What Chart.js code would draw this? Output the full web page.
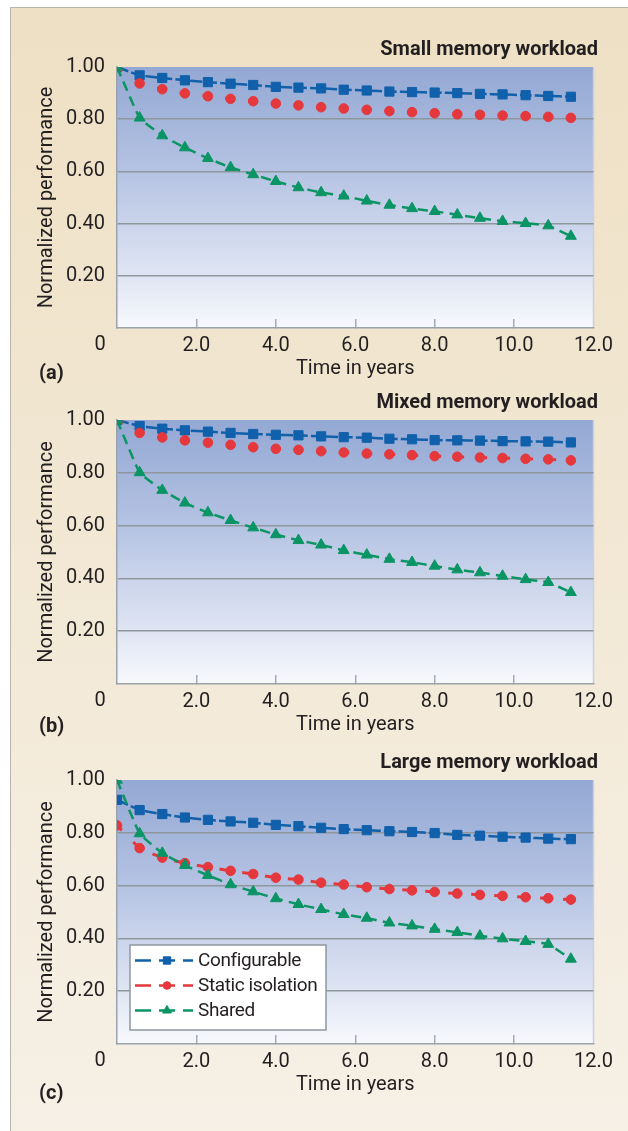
<!DOCTYPE html>
<html>
<head>
  <meta charset="UTF-8">
  <title>Normalized performance over time</title>
  <script src="https://cdn.jsdelivr.net/npm/chart.js"></script>
  <style>
    body {
      margin: 0;
      width: 628px;
      height: 1131px;
      position: relative;
      overflow: hidden;
      background: #fff;
      font-family: Roboto, 'DejaVu Sans', sans-serif;
    }

    #panel {
      position: absolute;
      left: 10px;
      top: 7px;
      width: 630px;
      height: 1130px;
      border-left: 1.5px solid #b7b4ae;
      border-top: 1.5px solid #b7b4ae;
      background: linear-gradient(#eee0c4, #f6f0e6);
    }

    canvas {
      position: absolute;
      left: 0;
    }

    .tag {
      position: absolute;
      left: 39px;
      font-size: 20px;
      line-height: 24px;
      font-weight: bold;
      color: #231f20;
    }
  </style>
</head>
<body>
  <div id="panel"></div>
  <canvas id="smallChart" width="628" height="353" style="top:30px"></canvas>
  <canvas id="mixedChart" width="628" height="356" style="top:383px"></canvas>
  <canvas id="largeChart" width="628" height="356" style="top:743px"></canvas>
  <div class="tag" style="top:360px">(a)</div>
  <div class="tag" style="top:713px">(b)</div>
  <div class="tag" style="top:1080px">(c)</div>

  <script>
    const FONT = "Roboto, 'DejaVu Sans', sans-serif";
    const INK = '#231f20';
    Chart.defaults.font.family = FONT;
    Chart.defaults.color = INK;

    // time axis (years) shared by all three panels
    const years = [0, 0.57, 1.14, 1.71, 2.29, 2.86, 3.43, 4.0, 4.57, 5.14, 5.71,
                   6.29, 6.86, 7.43, 8.0, 8.57, 9.14, 9.71, 10.29, 10.86, 11.43];
    const seriesNames = ['Configurable', 'Static isolation', 'Shared'];

    // (a) small memory workload
    const smallConfigurable = [1.00, 0.968, 0.958, 0.949, 0.942, 0.936, 0.931, 0.924, 0.921, 0.918, 0.913,
                               0.910, 0.906, 0.904, 0.902, 0.900, 0.897, 0.895, 0.892, 0.889, 0.886];
    const smallStatic = [1.00, 0.937, 0.915, 0.899, 0.888, 0.878, 0.869, 0.860, 0.853, 0.846, 0.841,
                         0.836, 0.831, 0.827, 0.823, 0.819, 0.817, 0.814, 0.812, 0.809, 0.805];
    const smallShared = [1.00, 0.805, 0.737, 0.691, 0.650, 0.615, 0.588, 0.562, 0.538, 0.519, 0.506,
                         0.487, 0.471, 0.458, 0.447, 0.434, 0.421, 0.409, 0.401, 0.392, 0.352];

    // (b) mixed memory workload
    const mixedConfigurable = [1.00, 0.977, 0.967, 0.961, 0.956, 0.951, 0.947, 0.944, 0.942, 0.938, 0.935,
                               0.933, 0.929, 0.927, 0.924, 0.923, 0.922, 0.920, 0.919, 0.918, 0.915];
    const mixedStatic = [1.00, 0.951, 0.934, 0.923, 0.914, 0.906, 0.897, 0.891, 0.887, 0.882, 0.877,
                         0.873, 0.870, 0.867, 0.863, 0.861, 0.858, 0.856, 0.853, 0.851, 0.847];
    const mixedShared = [1.00, 0.801, 0.734, 0.686, 0.649, 0.620, 0.592, 0.566, 0.544, 0.527, 0.506,
                         0.489, 0.473, 0.461, 0.447, 0.433, 0.422, 0.409, 0.396, 0.385, 0.347];

    // (c) large memory workload
    const largeConfigurable = [0.925, 0.886, 0.871, 0.858, 0.849, 0.843, 0.838, 0.830, 0.825, 0.819, 0.814,
                               0.810, 0.806, 0.803, 0.799, 0.792, 0.789, 0.785, 0.782, 0.778, 0.776];
    const largeStatic = [0.828, 0.742, 0.706, 0.685, 0.670, 0.656, 0.644, 0.630, 0.623, 0.611, 0.604,
                         0.594, 0.587, 0.582, 0.576, 0.570, 0.565, 0.561, 0.556, 0.552, 0.547];
    const largeShared = [1.00, 0.797, 0.723, 0.677, 0.639, 0.604, 0.577, 0.551, 0.529, 0.510, 0.491,
                         0.477, 0.459, 0.448, 0.435, 0.423, 0.410, 0.399, 0.389, 0.378, 0.322];

    const seriesColors = ['#1060ab', '#e5383d', '#0b9464'];
    const seriesDash = [[12, 3], [7, 16], [10, 6]];
    const seriesMarkers = ['rect', 'circle', 'triangle'];
    const markerRadius = [6.5, 4.8, 6.3];
    const GRID = '#8e979e';

    // gradient fill behind the plot area
    const plotBackground = {
      id: 'plotBackground',
      beforeDraw(chart) {
        const { ctx, chartArea: a } = chart;
        const g = ctx.createLinearGradient(0, a.top, 0, a.bottom);
        g.addColorStop(0, '#93a8d3');
        g.addColorStop(0.4, '#b5c3e3');
        g.addColorStop(0.8, '#dfe5f3');
        g.addColorStop(1, '#f8f9fd');
        ctx.save();
        ctx.fillStyle = g;
        ctx.fillRect(a.left, a.top, a.right - a.left, a.bottom - a.top);
        ctx.strokeStyle = '#c9d0de';
        ctx.lineWidth = 1.5;
        ctx.beginPath();
        ctx.moveTo(a.right, a.top);
        ctx.lineTo(a.right, a.bottom);
        ctx.stroke();
        ctx.restore();
      }
    };

    // the shared "0" sits left of the origin, on the x label row
    const originZero = {
      id: 'originZero',
      afterDraw(chart) {
        const xs = chart.scales.x;
        const ctx = chart.ctx;
        ctx.save();
        ctx.font = '20px ' + FONT;
        ctx.fillStyle = INK;
        ctx.textAlign = 'center';
        ctx.textBaseline = 'middle';
        ctx.fillText('0', xs.getPixelForValue(0) - 17, xs.top + 17);
        ctx.restore();
      }
    };

    // boxed legend in the lower left of the plot: dash, marker, dash, label
    const boxedLegend = {
      id: 'boxedLegend',
      afterDraw(chart) {
        const { ctx, chartArea: a } = chart;
        const x0 = a.left + 13, w = 196, h = 85;
        const y0 = a.bottom - 14 - h;
        ctx.save();
        ctx.fillStyle = '#fff';
        ctx.fillRect(x0, y0, w, h);
        ctx.strokeStyle = GRID;
        ctx.lineWidth = 1.5;
        ctx.strokeRect(x0, y0, w, h);
        chart.data.datasets.forEach((ds, k) => {
          const cy = y0 + 15.5 + k * 25;
          ctx.strokeStyle = ds.borderColor;
          ctx.fillStyle = ds.borderColor;
          ctx.lineWidth = 2.5;
          ctx.beginPath();
          ctx.moveTo(x0 + 5, cy); ctx.lineTo(x0 + 21, cy);
          ctx.moveTo(x0 + 29, cy); ctx.lineTo(x0 + 45, cy);
          ctx.moveTo(x0 + 53, cy); ctx.lineTo(x0 + 63, cy);
          ctx.stroke();
          ctx.lineWidth = 1;
          Chart.helpers.drawPoint(ctx, {
            pointStyle: ds.pointStyle,
            radius: ds.pointRadius * 0.8,
            borderWidth: 1,
            rotation: 0
          }, x0 + 37, cy);
          ctx.fillStyle = INK;
          ctx.font = '19px ' + FONT;
          if ('letterSpacing' in ctx) ctx.letterSpacing = '-0.4px';
          ctx.textAlign = 'left';
          ctx.textBaseline = 'middle';
          ctx.fillText(ds.label, x0 + 68, cy + 1);
        });
        ctx.restore();
      }
    };

    function buildPanel(canvasId, title, series, withLegend) {
      const datasets = series.map((vals, k) => ({
        label: seriesNames[k],
        data: vals.map((v, i) => ({ x: years[i], y: v })),
        borderColor: seriesColors[k],
        backgroundColor: seriesColors[k],
        borderWidth: k === 1 ? 3 : 2.5,
        borderDash: seriesDash[k],
        pointStyle: seriesMarkers[k],
        pointRadius: markerRadius[k],
        pointBorderWidth: 1,
        order: 3 - k,
        tension: 0.1
      }));

      const plugins = [plotBackground, originZero];
      if (withLegend) plugins.push(boxedLegend);

      return new Chart(document.getElementById(canvasId), {
        type: 'line',
        data: { datasets: datasets },
        options: {
          responsive: false,
          animation: false,
          events: [],
          layout: { padding: { left: 0, right: 30, top: 0, bottom: 0 } },
          plugins: {
            legend: { display: false },
            tooltip: { enabled: false },
            title: {
              display: true,
              text: title,
              align: 'end',
              color: INK,
              font: { size: 20, weight: 'bold' },
              padding: { top: 8, bottom: 5 }
            }
          },
          scales: {
            x: {
              type: 'linear',
              min: 0,
              max: 12,
              afterFit: s => { s.height = 55; },
              ticks: {
                stepSize: 2,
                padding: 15,
                maxRotation: 0,
                color: INK,
                font: { size: 20 },
                callback: v => v === 0 ? '' : v.toFixed(1)
              },
              grid: {
                drawOnChartArea: false,
                drawTicks: true,
                tickLength: -9,
                lineWidth: 1.5,
                color: c => (c.tick && (c.tick.value === 0 || c.tick.value === 12)) ? 'rgba(0,0,0,0)' : '#a3acb5'
              },
              border: { color: '#9aa3ac', width: 1.5 },
              title: {
                display: true,
                text: 'Time in years',
                color: INK,
                font: { size: 20 },
                padding: { top: 0, bottom: 2 }
              }
            },
            y: {
              min: 0,
              max: 1,
              afterFit: s => { s.width = 117; },
              ticks: {
                stepSize: 0.2,
                padding: 12,
                color: INK,
                font: { size: 20 },
                callback: v => v === 0 ? '' : v.toFixed(2)
              },
              grid: {
                drawTicks: false,
                lineWidth: 1.5,
                color: c => (c.tick && (c.tick.value === 0 || c.tick.value === 1)) ? 'rgba(0,0,0,0)' : GRID
              },
              border: { color: '#9aa3ac', width: 1.5 },
              title: {
                display: true,
                text: 'Normalized performance',
                color: INK,
                font: { size: 20 },
                padding: { top: 35, bottom: 0 }
              }
            }
          }
        },
        plugins: plugins
      });
    }

    buildPanel('smallChart', 'Small memory workload', [smallConfigurable, smallStatic, smallShared], false);
    buildPanel('mixedChart', 'Mixed memory workload', [mixedConfigurable, mixedStatic, mixedShared], false);
    buildPanel('largeChart', 'Large memory workload', [largeConfigurable, largeStatic, largeShared], true);
  </script>
</body>
</html>
